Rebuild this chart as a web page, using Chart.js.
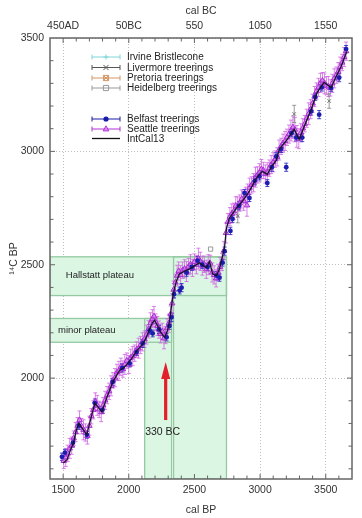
<!DOCTYPE html>
<html>
<head>
<meta charset="utf-8">
<title>Hallstatt plateau</title>
<script src="https://cdn.jsdelivr.net/npm/chart.js@4.4.0/dist/chart.umd.min.js"></script>
<style>
    html, body { margin: 0; padding: 0; background: #fff; }
    #graficoContainer { position: relative; width: 362px; height: 518px; }
</style>
</head>
<body>
<div id="graficoContainer"><canvas id="graficoCurva"></canvas></div>
<script>
// Limites dos eixos (cal BP no x, 14C BP no y)
const X_MIN = 1400, X_MAX = 3700;
const Y_MIN = 1555, Y_MAX = 3500;

// Ticks principais e rótulos
const xMajorTicks = [1500, 2000, 2500, 3000, 3500];
const calBCLabels = ['450AD', '50BC', '550', '1050', '1550'];
const yMajorTicks = [2000, 2500, 3000, 3500];
const xMinorTicks = [1500, 1600, 1700, 1800, 1900, 2000, 2100, 2200, 2300, 2400, 2500, 2600,
    2700, 2800, 2900, 3000, 3100, 3200, 3300, 3400, 3500, 3600];
const yMinorTicks = [1600, 1700, 1800, 1900, 2000, 2100, 2200, 2300, 2400, 2500, 2600, 2700,
    2800, 2900, 3000, 3100, 3200, 3300, 3400];

// Curva IntCal13 [cal BP, 14C BP]
const intcal13 = [
    [1500, 1625], [1530, 1640], [1560, 1690], [1580, 1715], [1600, 1770], [1620, 1800],
    [1650, 1775], [1680, 1750], [1710, 1820], [1742, 1890], [1770, 1870], [1795, 1851],
    [1833, 1915], [1860, 1955], [1878, 1983], [1905, 2010], [1931, 2035], [1960, 2045],
    [1992, 2065], [2020, 2085], [2060, 2120], [2106, 2150], [2130, 2175], [2159, 2215],
    [2180, 2245], [2197, 2255], [2220, 2230], [2245, 2200], [2273, 2180], [2295, 2210],
    [2311, 2254], [2334, 2355], [2350, 2400], [2364, 2430], [2387, 2460], [2420, 2470],
    [2463, 2482], [2500, 2495], [2539, 2509], [2570, 2495], [2592, 2487], [2615, 2515],
    [2638, 2460], [2668, 2452], [2690, 2480], [2706, 2518], [2729, 2575], [2744, 2662],
    [2767, 2706], [2820, 2750], [2866, 2781], [2919, 2825], [2972, 2882], [3017, 2912],
    [3055, 2899], [3090, 2935], [3123, 2960], [3146, 3009], [3207, 3053], [3260, 3097],
    [3298, 3053], [3336, 3110], [3389, 3185], [3435, 3260], [3488, 3304], [3541, 3282],
    [3579, 3330], [3617, 3374], [3660, 3440]
];

// Seattle treerings [cal BP, 14C BP, erro]
const seattle = [
    [1505, 1635, 34], [1520, 1650, 40], [1535, 1668, 36], [1550, 1690, 44], [1565, 1702, 38],
    [1580, 1735, 32], [1595, 1762, 42], [1610, 1790, 36], [1625, 1815, 40], [1640, 1788, 34],
    [1655, 1772, 44], [1670, 1760, 38], [1685, 1745, 36], [1700, 1790, 42], [1715, 1832, 34],
    [1730, 1860, 40], [1745, 1897, 38], [1760, 1880, 44], [1775, 1862, 36], [1790, 1850, 42],
    [1805, 1880, 34], [1820, 1902, 40], [1835, 1925, 38], [1850, 1942, 36], [1865, 1966, 44],
    [1880, 1990, 34], [1895, 2002, 40], [1910, 2025, 36], [1925, 2032, 42], [1940, 2050, 38],
    [1955, 2040, 36], [1970, 2060, 44], [1985, 2077, 34], [2000, 2060, 40], [2015, 2090, 38],
    [2030, 2097, 42], [2045, 2110, 36], [2060, 2126, 34], [2075, 2132, 44], [2090, 2146, 38],
    [2105, 2160, 40], [2120, 2172, 36], [2135, 2192, 42], [2150, 2215, 38], [2165, 2242, 46],
    [2180, 2262, 40], [2192, 2272, 44], [2205, 2247, 36], [2218, 2230, 42], [2230, 2214, 38],
    [2242, 2195, 40], [2255, 2206, 36], [2268, 2175, 46], [2280, 2190, 38], [2292, 2220, 42],
    [2305, 2242, 40], [2318, 2282, 36], [2330, 2330, 42], [2342, 2390, 38], [2355, 2422, 36],
    [2368, 2452, 46], [2380, 2472, 40], [2395, 2455, 42], [2410, 2476, 36], [2425, 2482, 40],
    [2440, 2470, 44], [2455, 2492, 36], [2470, 2502, 42], [2485, 2486, 38], [2500, 2512, 36],
    [2515, 2500, 40], [2530, 2527, 46], [2545, 2515, 40], [2560, 2496, 42], [2575, 2502, 36],
    [2590, 2480, 40], [2605, 2500, 44], [2620, 2506, 36], [2635, 2466, 42], [2650, 2455, 40],
    [2665, 2440, 38], [2680, 2466, 36], [2695, 2490, 42], [2710, 2512, 38], [2725, 2562, 40],
    [2740, 2640, 44], [2755, 2690, 36], [2770, 2712, 40], [2785, 2726, 42], [2800, 2736, 36],
    [2815, 2760, 40], [2830, 2755, 44], [2845, 2772, 36], [2860, 2790, 40], [2875, 2782, 42],
    [2890, 2806, 36], [2900, 2762, 48], [2905, 2816, 40], [2920, 2840, 42], [2935, 2852, 36],
    [2950, 2862, 40], [2965, 2886, 44], [2980, 2896, 36], [2995, 2906, 40], [3010, 2922, 42],
    [3025, 2916, 36], [3040, 2900, 40], [3055, 2906, 44], [3070, 2926, 36], [3085, 2942, 40],
    [3100, 2952, 42], [3115, 2966, 36], [3130, 2976, 40], [3145, 3006, 44], [3160, 3022, 36],
    [3175, 3036, 40], [3190, 3046, 42], [3205, 3062, 36], [3220, 3076, 40], [3235, 3092, 46],
    [3250, 3106, 50], [3265, 3096, 54], [3280, 3066, 48], [3295, 3056, 44], [3310, 3082, 40],
    [3325, 3102, 42], [3340, 3122, 36], [3355, 3146, 40], [3370, 3166, 48], [3385, 3186, 42],
    [3400, 3212, 40], [3415, 3242, 44], [3430, 3266, 36], [3445, 3282, 40], [3460, 3302, 42],
    [3475, 3312, 36], [3490, 3300, 46], [3505, 3290, 40], [3520, 3286, 44], [3535, 3280, 36],
    [3550, 3300, 40], [3565, 3322, 42], [3580, 3336, 36], [3595, 3352, 40], [3610, 3372, 44],
    [3625, 3392, 36], [3640, 3416, 42], [3655, 3442, 40]
];

// Belfast treerings [cal BP, 14C BP, erro]
const belfast = [
    [1491, 1653, 16], [1514, 1671, 15], [1575, 1715, 18], [1620, 1790, 16], [1681, 1750, 15],
    [1742, 1890, 18], [1800, 1860, 16], [1878, 1983, 15], [1950, 2045, 18], [2007, 2065, 16],
    [2060, 2115, 15], [2106, 2153, 18], [2159, 2210, 16], [2182, 2197, 15], [2230, 2215, 18],
    [2288, 2180, 16], [2310, 2230, 15], [2326, 2268, 18], [2345, 2370, 16], [2387, 2386, 15],
    [2402, 2399, 18], [2440, 2465, 16], [2480, 2490, 15], [2524, 2518, 18], [2560, 2500, 16],
    [2600, 2490, 15], [2668, 2452, 18], [2691, 2443, 16], [2714, 2509, 15], [2730, 2560, 18],
    [2774, 2649, 16], [2790, 2702, 15], [2840, 2760, 18], [2881, 2816, 16], [2919, 2794, 15],
    [2960, 2870, 18], [2995, 2890, 16], [3055, 2860, 15], [3090, 2930, 18], [3123, 2978, 16],
    [3160, 3010, 15], [3199, 2930, 18], [3240, 3080, 16], [3275, 3061, 15], [3321, 3061, 18],
    [3389, 3176, 16], [3420, 3240, 15], [3450, 3162, 18], [3470, 3282, 16], [3541, 3280, 15],
    [3602, 3325, 18], [3655, 3451, 16]
];

// Outros laboratórios (poucos pontos visíveis)
const livermore = [[2830, 2715, 30], [3260, 3165, 38], [3526, 3222, 32]];
const heidelberg = [[2623, 2569, 0]];
const irvine = [];
const pretoria = [];

// Regiões verdes [xIni, xFim, yIni, yFim] em unidades dos dados
const hallstattBand = [X_MIN, 2744, 2364, 2535];
const hallstattColumn = [2341, 2744, Y_MIN, 2535];
const minorBand = [X_MIN, 2326, 2158, 2263];
const minorColumn = [2121, 2326, Y_MIN, 2263];

// Anotações de texto e seta (posição em unidades dos dados)
const annotations = [
    { text: 'Hallstatt plateau', x: 1780, y: 2455, size: 9.5 },
    { text: 'minor plateau', x: 1680, y: 2212, size: 9.5 },
    { text: '330 BC', x: 2258, y: 1762, size: 10.5 }
];
const arrow = { x: 2281, from: 1815, to: 2071 };

const FONT = "'Liberation Sans', Arial, sans-serif";

const toXY = arr => arr.map(p => ({ x: p[0], y: p[1], e: p[2] }));

/**
 * Desenha um marcador simples (mesmo estilo dos pontos do gráfico)
 */
function desenharMarcador(ctx, estilo, x, y, r, cor, preenchimento) {
    ctx.save();
    ctx.strokeStyle = cor;
    ctx.fillStyle = preenchimento || cor;
    ctx.lineWidth = 1;
    ctx.beginPath();
    if (estilo === 'circle') {
        ctx.arc(x, y, r, 0, Math.PI * 2);
        ctx.fill();
    } else if (estilo === 'triangle') {
        ctx.moveTo(x, y - r);
        ctx.lineTo(x + r * 0.9, y + r * 0.6);
        ctx.lineTo(x - r * 0.9, y + r * 0.6);
        ctx.closePath();
        if (preenchimento) ctx.fill();
        ctx.stroke();
    } else if (estilo === 'cross') {
        ctx.moveTo(x - r, y); ctx.lineTo(x + r, y);
        ctx.moveTo(x, y - r); ctx.lineTo(x, y + r);
        ctx.stroke();
    } else if (estilo === 'crossRot') {
        ctx.moveTo(x - r, y - r); ctx.lineTo(x + r, y + r);
        ctx.moveTo(x - r, y + r); ctx.lineTo(x + r, y - r);
        ctx.stroke();
    } else if (estilo === 'star') {
        ctx.rect(x - r, y - r, 2 * r, 2 * r);
        ctx.moveTo(x - r, y - r); ctx.lineTo(x + r, y + r);
        ctx.moveTo(x - r, y + r); ctx.lineTo(x + r, y - r);
        ctx.moveTo(x - r, y); ctx.lineTo(x + r, y);
        ctx.stroke();
    } else if (estilo === 'rect') {
        ctx.rect(x - r, y - r, 2 * r, 2 * r);
        ctx.stroke();
    }
    ctx.restore();
}

// Séries com barras de erro (desenhadas antes dos pontos)
const errorSeries = [
    { data: seattle, color: 'rgba(206, 100, 226, 0.8)' },
    { data: livermore, color: 'rgba(130, 130, 130, 0.8)' },
    { data: belfast, color: 'rgba(40, 40, 190, 0.85)' }
];

const fundoPlugin = {
    id: 'fundoPlugin',
    beforeDatasetsDraw(chart) {
        const { ctx, chartArea, scales: { x, y } } = chart;
        ctx.save();
        ctx.beginPath();
        ctx.rect(chartArea.left, chartArea.top, chartArea.right - chartArea.left, chartArea.bottom - chartArea.top);
        ctx.clip();

        const rects = [hallstattBand, hallstattColumn, minorBand, minorColumn].map(r => {
            const x0 = x.getPixelForValue(r[0]), x1 = x.getPixelForValue(r[1]);
            const y0 = y.getPixelForValue(r[3]), y1 = y.getPixelForValue(r[2]);
            return [x0, y0, x1 - x0, y1 - y0];
        });
        ctx.fillStyle = '#dcf6e4';
        rects.forEach(r => ctx.fillRect(r[0], r[1], r[2], r[3]));
        ctx.strokeStyle = '#94caa2';
        ctx.lineWidth = 1.3;
        rects.forEach(r => ctx.strokeRect(r[0], r[1], r[2], r[3]));

        // barras de erro
        errorSeries.forEach(s => {
            ctx.strokeStyle = s.color;
            ctx.lineWidth = 1;
            s.data.forEach(p => {
                if (!p[2]) return;
                const px = x.getPixelForValue(p[0]);
                const yt = y.getPixelForValue(p[1] + p[2]);
                const yb = y.getPixelForValue(p[1] - p[2]);
                ctx.beginPath();
                ctx.moveTo(px, yt); ctx.lineTo(px, yb);
                ctx.moveTo(px - 2, yt); ctx.lineTo(px + 2, yt);
                ctx.moveTo(px - 2, yb); ctx.lineTo(px + 2, yb);
                ctx.stroke();
            });
        });
        ctx.restore();
    },
    afterDatasetsDraw(chart) {
        const { ctx, chartArea, scales: { x, y } } = chart;
        ctx.save();

        // moldura e ticks internos
        ctx.strokeStyle = '#666';
        ctx.lineWidth = 1.5;
        ctx.strokeRect(chartArea.left, chartArea.top, chartArea.right - chartArea.left, chartArea.bottom - chartArea.top);
        ctx.lineWidth = 1;
        ctx.beginPath();
        xMinorTicks.forEach(v => {
            const px = x.getPixelForValue(v);
            const len = xMajorTicks.includes(v) ? 5 : 3.5;
            ctx.moveTo(px, chartArea.bottom); ctx.lineTo(px, chartArea.bottom - len);
            ctx.moveTo(px, chartArea.top); ctx.lineTo(px, chartArea.top + len);
        });
        yMinorTicks.forEach(v => {
            const py = y.getPixelForValue(v);
            const len = yMajorTicks.includes(v) ? 5 : 3.5;
            ctx.moveTo(chartArea.left, py); ctx.lineTo(chartArea.left + len, py);
            ctx.moveTo(chartArea.right, py); ctx.lineTo(chartArea.right - len, py);
        });
        ctx.stroke();

        // textos das anotações
        ctx.fillStyle = '#222';
        ctx.textAlign = 'center';
        ctx.textBaseline = 'middle';
        annotations.forEach(a => {
            ctx.font = a.size + 'px ' + FONT;
            ctx.fillText(a.text, x.getPixelForValue(a.x), y.getPixelForValue(a.y));
        });

        // seta vermelha
        const ax = x.getPixelForValue(arrow.x);
        const ay0 = y.getPixelForValue(arrow.from);
        const ay1 = y.getPixelForValue(arrow.to);
        ctx.fillStyle = '#e3202a';
        ctx.fillRect(ax - 1.6, ay1 + 14, 3.2, ay0 - ay1 - 14);
        ctx.beginPath();
        ctx.moveTo(ax, ay1);
        ctx.lineTo(ax + 4.5, ay1 + 17);
        ctx.lineTo(ax - 4.5, ay1 + 17);
        ctx.closePath();
        ctx.fill();

        // legenda
        const itens = [
            { label: 'Irvine Bristlecone', color: '#7fd6da', style: 'cross', y: 57 },
            { label: 'Livermore treerings', color: '#555', style: 'crossRot', y: 67.5 },
            { label: 'Pretoria treerings', color: '#d49566', style: 'star', y: 78 },
            { label: 'Heidelberg treerings', color: '#999', style: 'rect', y: 88 },
            { label: 'Belfast treerings', color: '#1a1aa8', style: 'circle', y: 119 },
            { label: 'Seattle treerings', color: '#b032d4', style: 'triangle', y: 129, fill: 'rgba(215,120,236,0.65)' },
            { label: 'IntCal13', color: '#111', style: null, y: 138.5 }
        ];
        const x0 = 92, x1 = 120;
        ctx.font = '10px ' + FONT;
        ctx.textAlign = 'left';
        itens.forEach(it => {
            ctx.strokeStyle = it.color;
            ctx.lineWidth = it.style ? 1 : 1.3;
            ctx.beginPath();
            ctx.moveTo(x0, it.y); ctx.lineTo(x1, it.y);
            if (it.style) {
                ctx.moveTo(x0, it.y - 2.5); ctx.lineTo(x0, it.y + 2.5);
                ctx.moveTo(x1, it.y - 2.5); ctx.lineTo(x1, it.y + 2.5);
            }
            ctx.stroke();
            if (it.style) {
                desenharMarcador(ctx, it.style, (x0 + x1) / 2, it.y, it.style === 'triangle' ? 3.2 : 2.6, it.color, it.fill);
            }
            ctx.fillStyle = '#222';
            ctx.fillText(it.label, 127, it.y + 0.5);
        });
        ctx.restore();
    }
};

function fixarTicks(valores) {
    return scale => { scale.ticks = valores.map(v => ({ value: v })); };
}

const tickFont = { size: 10.5, family: FONT };
const semSeparador = v => String(v);

const ctx = document.getElementById('graficoCurva').getContext('2d');
const chartInstance = new Chart(ctx, {
    type: 'scatter',
    data: {
        datasets: [
            {
                label: 'IntCal13',
                data: toXY(intcal13),
                showLine: true,
                borderColor: '#14142a',
                borderWidth: 1.3,
                pointRadius: 0,
                tension: 0
            },
            {
                label: 'Belfast treerings',
                data: toXY(belfast),
                pointStyle: 'circle',
                pointRadius: 2.4,
                backgroundColor: '#1c1cb0',
                borderColor: '#1c1cb0',
                borderWidth: 0
            },
            {
                label: 'Seattle treerings',
                data: toXY(seattle),
                pointStyle: 'triangle',
                pointRadius: 3.2,
                backgroundColor: 'rgba(210, 110, 234, 0.65)',
                borderColor: '#a82ed0',
                borderWidth: 1
            },
            {
                label: 'Livermore treerings',
                data: toXY(livermore),
                pointStyle: 'crossRot',
                pointRadius: 2.5,
                borderColor: '#777',
                borderWidth: 1
            },
            {
                label: 'Heidelberg treerings',
                data: toXY(heidelberg),
                pointStyle: 'rect',
                pointRadius: 3,
                backgroundColor: 'rgba(255,255,255,0)',
                borderColor: '#999',
                borderWidth: 1
            },
            { label: 'Irvine Bristlecone', data: toXY(irvine) },
            { label: 'Pretoria treerings', data: toXY(pretoria) }
        ]
    },
    options: {
        responsive: true,
        maintainAspectRatio: false,
        animation: false,
        devicePixelRatio: 1,
        layout: { padding: { right: 10 } },
        plugins: {
            legend: { display: false },
            tooltip: { enabled: false }
        },
        scales: {
            x: {
                type: 'linear',
                position: 'bottom',
                min: X_MIN,
                max: X_MAX,
                afterBuildTicks: fixarTicks(xMajorTicks),
                afterFit: s => { s.height = 39; },
                grid: { color: '#bdbdbd', lineWidth: 1, drawTicks: false },
                border: { display: false, dash: [1, 2] },
                ticks: { font: tickFont, color: '#333', padding: 4.5, maxRotation: 0, callback: semSeparador },
                title: { display: true, text: 'cal BP', font: tickFont, color: '#333', padding: { top: 0, bottom: 2 } }
            },
            x2: {
                type: 'linear',
                position: 'top',
                min: X_MIN,
                max: X_MAX,
                afterBuildTicks: fixarTicks(xMajorTicks),
                afterFit: s => { s.height = 38; },
                grid: { display: false, drawTicks: false },
                border: { display: false },
                ticks: {
                    font: tickFont, color: '#333', padding: 5.5, maxRotation: 0,
                    callback: v => calBCLabels[xMajorTicks.indexOf(v)] || ''
                },
                title: { display: true, text: 'cal BC', font: tickFont, color: '#333', padding: { top: 5, bottom: 0 } }
            },
            y: {
                type: 'linear',
                position: 'left',
                min: Y_MIN,
                max: Y_MAX,
                afterBuildTicks: fixarTicks(yMajorTicks),
                afterFit: s => { s.width = 50; },
                grid: { color: '#bdbdbd', lineWidth: 1, drawTicks: false },
                border: { display: false, dash: [1, 2] },
                ticks: { font: tickFont, color: '#333', padding: 6, callback: semSeparador },
                title: { display: true, text: '¹⁴C BP', font: tickFont, color: '#333', padding: { top: 8, bottom: 0 } }
            }
        }
    },
    plugins: [fundoPlugin]
});
</script>
</body>
</html>
